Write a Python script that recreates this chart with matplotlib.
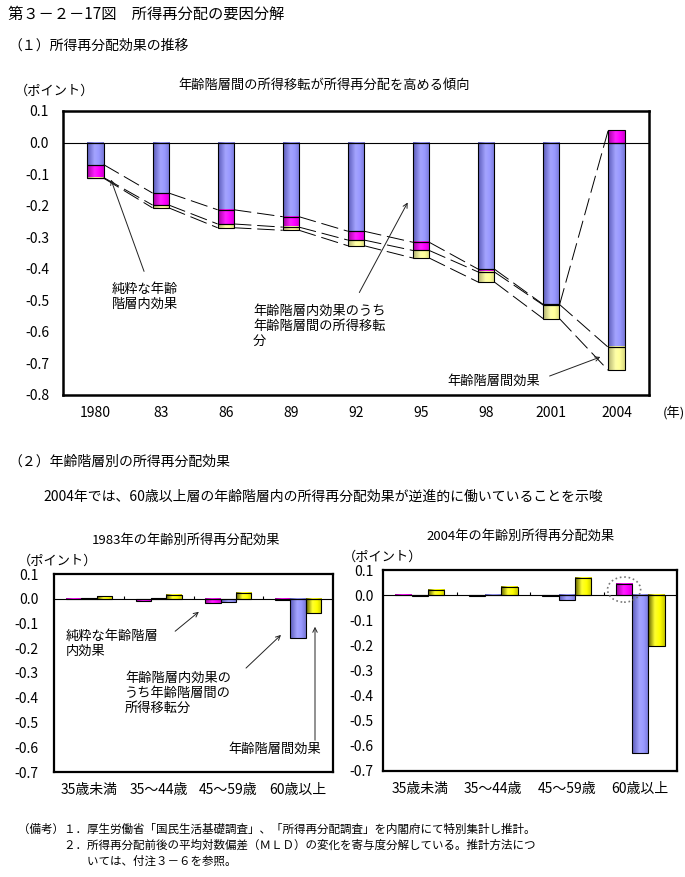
import numpy as np
import matplotlib
matplotlib.use('Agg')
import matplotlib.pyplot as plt
from matplotlib.colors import LinearSegmentedColormap
from matplotlib.patches import Ellipse

plt.rcParams['font.family'] = ['Noto Sans CJK JP', 'DejaVu Sans']
plt.rcParams['axes.unicode_minus'] = False
plt.rcParams['font.size'] = 9.5

# ---------- (1) 所得再分配効果の推移 ----------
years = ['1980', '83', '86', '89', '92', '95', '98', '2001', '2004']
transfer = np.array([-0.070, -0.160, -0.213, -0.235, -0.281, -0.316, -0.401, -0.513, -0.649])  # 年齢階層内効果のうち所得移転分
pure_within = np.array([-0.041, -0.038, -0.045, -0.033, -0.028, -0.026, -0.009, -0.002, 0.040])  # 純粋な年齢階層内効果
between = np.array([-0.002, -0.009, -0.012, -0.010, -0.018, -0.024, -0.032, -0.043, -0.073])  # 年齢階層間効果

# ---------- (2) 年齢階層別の所得再分配効果 ----------
age_groups = ['35歳未満', '35～44歳', '45～59歳', '60歳以上']
pure_1983 = np.array([-0.003, -0.008, -0.017, -0.007])
transfer_1983 = np.array([0.002, 0.003, -0.012, -0.158])
between_1983 = np.array([0.012, 0.017, 0.025, -0.058])
pure_2004 = np.array([-0.001, -0.003, -0.003, 0.044])
transfer_2004 = np.array([-0.003, -0.001, -0.020, -0.630])
between_2004 = np.array([0.021, 0.032, 0.068, -0.203])

W, H = 685, 877

# gradient fills similar to the Excel bars
cm_blue = LinearSegmentedColormap.from_list('b', [(0, '#5a5ab8'), (0.45, '#a4a4ff'), (0.7, '#9999ff'), (1, '#7878d8')])
cm_mag = LinearSegmentedColormap.from_list('m', [(0, '#a000a0'), (0.45, '#ff20ff'), (0.7, '#ff00ff'), (1, '#d000d0')])
cm_pale = LinearSegmentedColormap.from_list('p', [(0, '#b0b070'), (0.45, '#ffffa8'), (0.7, '#ffff99'), (1, '#d8d880')])
cm_yel = LinearSegmentedColormap.from_list('y', [(0, '#606000'), (0.4, '#ffff30'), (0.7, '#ffff00'), (1, '#c8c800')])
grad = np.linspace(0, 1, 64).reshape(1, -1)


def shade(ax, bars, cmap):
    for b in bars:
        x0, y0, bw, bh = b.get_x(), b.get_y(), b.get_width(), b.get_height()
        if bh == 0:
            continue
        ax.imshow(grad, extent=[x0, x0 + bw, min(y0, y0 + bh), max(y0, y0 + bh)],
                  aspect='auto', cmap=cmap, zorder=2, interpolation='bilinear')


def px_axes(left, top, right, bottom):
    return fig.add_axes([left / W, 1 - bottom / H, (right - left) / W, (bottom - top) / H])


def ftext(x, y, s, **kw):
    fig.text(x / W, 1 - y / H, s, **kw)


def farrow(x0, y0, x1, y1):
    fig.add_artist(matplotlib.patches.FancyArrowPatch(
        (x0 / W, 1 - y0 / H), (x1 / W, 1 - y1 / H), transform=fig.transFigure,
        arrowstyle='->', mutation_scale=8, lw=0.7, color='#222222'))


def yticks(ax, lo, hi, pad):
    vals = np.linspace(lo, hi, int(round((hi - lo) * 10)) + 1)
    ax.set_yticks(vals, [f'{round(v, 1) + 0.0:.1f}' for v in vals])
    ax.tick_params(axis='y', length=0, pad=pad, labelsize=10)


fig = plt.figure(figsize=(W / 100, H / 100), dpi=100)

ftext(8, 14, '第３－２－17図　所得再分配の要因分解', fontsize=11, va='center')
ftext(8, 46, '（１）所得再分配効果の推移', fontsize=10, va='center')

# ---------- top chart ----------
ax1 = px_axes(63, 111, 649, 395)
n = len(years)
x = np.arange(n)
w = 0.25
ax1.set_xlim(-0.5, n - 0.5)
ax1.set_ylim(-0.8, 0.1)
pos = np.zeros(n)
neg = np.zeros(n)
ends = []
for vals, cmap in [(transfer, cm_blue), (pure_within, cm_mag), (between, cm_pale)]:
    bottom = np.where(vals >= 0, pos, neg)
    bars = ax1.bar(x, vals, w, bottom=bottom, facecolor='none', edgecolor='black', lw=0.8, zorder=3)
    shade(ax1, bars, cmap)
    top = bottom + vals
    pos = np.where(vals >= 0, top, pos)
    neg = np.where(vals < 0, top, neg)
    ends.append(top)

# series lines between adjacent bars
for end in ends:
    for i in range(n - 1):
        ax1.plot([x[i] + w / 2, x[i + 1] - w / 2], [end[i], end[i + 1]],
                 color='black', lw=0.7, dashes=(18, 6), zorder=3)

ax1.axhline(0, color='black', lw=0.8, zorder=2.5)
ax1.set_xticks(x, years)
ax1.tick_params(axis='x', length=0, pad=8, labelsize=10)
yticks(ax1, -0.8, 0.1, 10)
for s in ax1.spines.values():
    s.set_linewidth(1.8)

ftext(324, 85, '年齢階層間の所得移転が所得再分配を高める傾向', ha='center', va='center', fontsize=9.5)
ftext(15, 91, '（ポイント）', va='center', fontsize=9.5)
ftext(663, 413, '(年)', va='center', fontsize=9.5)

ftext(112, 283, '純粋な年齢\n階層内効果', va='top', linespacing=1.15)
farrow(145, 274, 110, 177)
ftext(253, 305, '年齢階層内効果のうち\n年齢階層間の所得移転\n分', va='top', linespacing=1.2)
farrow(358, 295, 409, 200)
ftext(447, 381, '年齢階層間効果', va='center')
farrow(547, 377, 603, 356)

# ---------- (2) ----------
ftext(8, 462, '（２）年齢階層別の所得再分配効果', fontsize=10, va='center')
ftext(43, 497, '2004年では、60歳以上層の年齢階層内の所得再分配効果が逆進的に働いていることを示唆',
      fontsize=10, va='center')


def age_chart(ax, pure, trans, betw):
    xg = np.arange(len(age_groups))
    bw = 0.22
    for off, vals, cmap in [(-bw, pure, cm_mag), (0, trans, cm_blue), (bw, betw, cm_yel)]:
        bars = ax.bar(xg + off, vals, bw, facecolor='none', edgecolor='black', lw=0.8, zorder=3)
        shade(ax, bars, cmap)
    ax.set_xlim(-0.5, len(age_groups) - 0.5)
    ax.set_ylim(-0.7, 0.1)
    ax.axhline(0, color='black', lw=0.8, zorder=2.5)
    ax.vlines(xg[:-1] + 0.5, 0, 0.012, colors='black', lw=0.8)
    ax.set_xticks(xg, age_groups)
    ax.tick_params(axis='x', length=0, pad=8, labelsize=10)
    for s in ax.spines.values():
        s.set_linewidth(1.6)
    return xg, bw


ax2 = px_axes(54, 574, 333, 772)
age_chart(ax2, pure_1983, transfer_1983, between_1983)
yticks(ax2, -0.7, 0.1, 11)
ftext(186, 540, '1983年の年齢別所得再分配効果', ha='center', va='center')
ftext(18, 561, '（ポイント）', va='center')

ftext(66, 630, '純粋な年齢階層\n内効果', va='top', linespacing=1.2)
farrow(173, 633, 201, 610)
ftext(125, 672, '年齢階層内効果の\nうち年齢階層間の\n所得移転分', va='top', linespacing=1.2)
farrow(244, 670, 283, 633)
ftext(228, 749, '年齢階層間効果', va='center')
farrow(315, 743, 315, 624)

ax3 = px_axes(383, 570, 677, 771)
xg, bw = age_chart(ax3, pure_2004, transfer_2004, between_2004)
yticks(ax3, -0.7, 0.1, 7)
ftext(521, 536, '2004年の年齢別所得再分配効果', ha='center', va='center')
ftext(343, 557, '（ポイント）', va='center')
ax3.add_patch(Ellipse((xg[3] - bw, pure_2004[3] / 2), 0.45, 0.1, fill=False,
                      edgecolor='#777777', lw=1.2, linestyle=':', zorder=5))

# ---------- notes ----------
ftext(18, 823, '（備考）１．厚生労働省「国民生活基礎調査」、「所得再分配調査」を内閣府にて特別集計し推計。\n'
      '　　　　２．所得再分配前後の平均対数偏差（ＭＬＤ）の変化を寄与度分解している。推計方法につ\n'
      '　　　　　　いては、付注３－６を参照。', va='top', fontsize=8.3, linespacing=1.3)

fig.savefig('out.png', dpi=100)
